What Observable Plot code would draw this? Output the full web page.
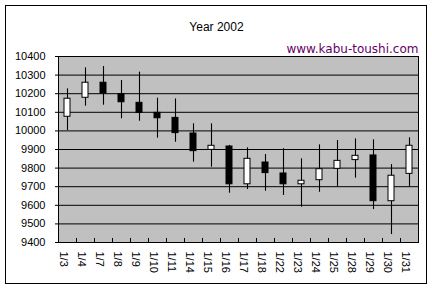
<!DOCTYPE html>
<html>
<head>
<meta charset="utf-8">
<script src="https://cdn.jsdelivr.net/npm/d3@7"></script>
<script src="https://cdn.jsdelivr.net/npm/@observablehq/plot@0.6"></script>
<style>
  html, body { margin: 0; padding: 0; background: #fff; }
  #wrap { position: relative; width: 432px; height: 289px; }
  #border { position: absolute; left: 5px; top: 5px; width: 420px; height: 277px; border: 1px solid #000; pointer-events: none; }
</style>
</head>
<body>
<div id="wrap"><div id="border"></div></div>
<script>
const title = "Year 2002";
const siteLabel = "www.kabu-toushi.com";
const dates = ["1/3","1/4","1/7","1/8","1/9","1/10","1/11","1/14","1/15","1/16","1/17","1/18","1/22","1/23","1/24","1/25","1/28","1/29","1/30","1/31"];
const openV  = [10076,10178,10259,10197,10151,10097,10070,9986,9898,9916,9713,9830,9771,9713,9735,9796,9843,9868,9622,9769];
const highV  = [10226,10339,10346,10271,10316,10176,10172,10038,10038,9922,9909,9873,9904,9850,9925,9948,9957,9952,9819,9963];
const lowV   = [10002,10133,10138,10065,10052,9961,9939,9832,9805,9665,9685,9676,9653,9590,9670,9700,9746,9577,9443,9700];
const closeV = [10173,10259,10201,10154,10097,10068,9988,9891,9920,9713,9850,9773,9713,9732,9794,9839,9866,9622,9759,9920];
const yTicks = [9400,9500,9600,9700,9800,9900,10000,10100,10200,10300,10400];

const data = dates.map((d, i) => ({date: d, open: openV[i], high: highV[i], low: lowV[i], close: closeV[i]}));

const chart = Plot.plot({
  width: 432,
  height: 289,
  marginLeft: 58,
  marginRight: 14,
  marginTop: 56,
  marginBottom: 47,
  style: {fontFamily: "'Liberation Sans', Arial, sans-serif", fontSize: "11px", background: "transparent", color: "#000"},
  x: {type: "band", domain: dates, padding: 0, label: null},
  y: {domain: [9400, 10400], label: null},
  marks: [
    Plot.frame({fill: "#c0c0c0", stroke: null}),
    Plot.ruleY(yTicks, {stroke: "#000", strokeWidth: 1}),
    Plot.ruleX(dates.slice(1), {x: d => d, dx: -9, insetTop: 182, stroke: "#000"}),
    Plot.ruleX(data, {x: "date", y1: "low", y2: "high", stroke: "#000", strokeWidth: 1.1}),
    Plot.barY(data, {x: "date", y1: "open", y2: "close", fill: d => d.close >= d.open ? "#fff" : "#000", stroke: "#000", strokeWidth: 1, insetLeft: 6, insetRight: 6}),
    Plot.frame({stroke: "#000", strokeWidth: 1}),
    Plot.axisY({ticks: yTicks, tickSize: 3, tickPadding: 10, tickFormat: d => String(d), fontSize: 11, label: null}),
    Plot.axisX({tickSize: 0, tickRotate: 90, tickPadding: 9, dx: -4, fontSize: 11, label: null}),
    Plot.text([title], {frameAnchor: "top", dx: -22, dy: -34, fontSize: 12, fill: "#000"}),
    Plot.text([siteLabel], {frameAnchor: "top-right", textAnchor: "end", dy: -12, fontSize: 12, fontFamily: "'DejaVu Sans', sans-serif", fill: "#660066"})
  ]
});
document.getElementById("wrap").appendChild(chart);
chart.style.position = "absolute";
chart.style.left = "0px";
chart.style.top = "0px";
</script>
</body>
</html>
